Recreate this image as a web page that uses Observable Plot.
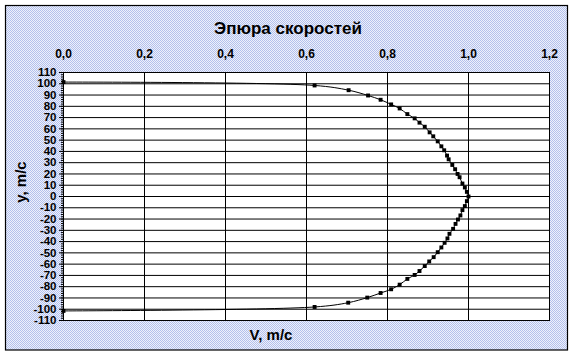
<!DOCTYPE html>
<html>
<head>
<meta charset="utf-8">
<script src="https://cdn.jsdelivr.net/npm/d3@7"></script>
<script src="https://cdn.jsdelivr.net/npm/@observablehq/plot@0.6"></script>
<style>
  html, body { margin: 0; padding: 0; background: #ffffff; }
  #chart { width: 576px; height: 356px; }
</style>
</head>
<body>
<div id="chart"></div>
<script>
// Velocity V (m/c) and position y (m/c) along the profile
const vel = [0, 0.620, 0.703, 0.750, 0.783, 0.809, 0.830, 0.849, 0.867, 0.879, 0.892, 0.903, 0.914, 0.924, 0.933, 0.941, 0.948, 0.953, 0.962, 0.968, 0.974, 0.980, 0.985, 0.991, 0.996,
  1.000,
  0.996, 0.991, 0.985, 0.978, 0.973, 0.967, 0.960, 0.951, 0.947, 0.940, 0.933, 0.924, 0.913, 0.904, 0.892, 0.879, 0.867, 0.849, 0.830, 0.809, 0.783, 0.752, 0.704, 0.620, 0];
const ypos = [-101.5, -98.0, -94.2, -89.7, -85.6, -82.3, -78.2, -73.1, -69.6, -66.1, -61.7, -57.6, -53.8, -49.4, -45.2, -41.1, -37.2, -33.1, -28.7, -24.3, -20.4, -16.8, -12.1, -8.5, -4.1,
  0,
  4.1, 8.0, 11.5, 17.1, 20.0, 24.2, 28.0, 33.0, 36.3, 41.0, 44.5, 48.9, 53.4, 56.9, 61.9, 65.5, 69.3, 73.1, 78.1, 81.7, 85.8, 89.6, 94.3, 98.5, 101.5];

const xTicks = [0, 0.2, 0.4, 0.6, 0.8, 1.0, 1.2];
const yTicks = [110, 100, 90, 80, 70, 60, 50, 40, 30, 20, 10, 0, -10, -20, -30, -40, -50, -60, -70, -80, -90, -100, -110];
const yMinor = d3.range(-110, 111, 2);

const title = "Эпюра скоростей";
const xTitle = "V, m/c";
const yTitle = "y, m/c";

const data = vel.map((v, i) => ({v, y: ypos[i]}));

const chart = Plot.plot({
  width: 576,
  height: 356,
  marginLeft: 63,
  marginRight: 27,
  marginTop: 72,
  marginBottom: 36,
  style: {background: "transparent", fontFamily: "'Liberation Sans', Arial, sans-serif", color: "black"},
  x: {domain: [0, 1.2]},
  y: {domain: [-110, 110]},
  marks: [
    Plot.frame({fill: "white", stroke: "none"}),
    Plot.gridY(yTicks.filter(d => Math.abs(d) < 110), {stroke: "black", strokeOpacity: 1, strokeWidth: 1}),
    Plot.gridX(xTicks.filter(d => d > 0 && d < 1.2), {stroke: "black", strokeOpacity: 1, strokeWidth: 1}),
    Plot.frame({stroke: "black", strokeWidth: 1}),
    Plot.axisX(xTicks, {anchor: "top", tickSize: 0, tickPadding: 15, label: null,
      tickFormat: d => d.toFixed(1).replace(".", ","), fontSize: 12, fontWeight: "bold"}),
    Plot.axisY(yMinor, {anchor: "left", tickSize: 2, tickFormat: () => "", label: null, stroke: "black"}),
    Plot.axisY(yTicks, {anchor: "left", tickSize: 4, tickPadding: 3, label: null,
      tickFormat: d => String(d), fontSize: 11.5, fontWeight: "bold", stroke: "black"}),
    Plot.line(data, {x: "v", y: "y", curve: "catmull-rom", stroke: "black", strokeWidth: 1}),
    Plot.dot(data, {x: "v", y: "y", symbol: "square", r: 2.2, fill: "black", stroke: "none"})
  ]
});

const svg = d3.select(chart);
// dithered light-blue background of the chart area
const defs = svg.insert("defs", ":first-child");
const pat = defs.append("pattern").attr("id", "dither").attr("width", 2).attr("height", 2)
  .attr("patternUnits", "userSpaceOnUse");
pat.append("rect").attr("width", 2).attr("height", 2).attr("fill", "#eef1fb");
pat.append("rect").attr("width", 1).attr("height", 1).attr("fill", "#b3c0ec");
pat.append("rect").attr("x", 1).attr("y", 1).attr("width", 1).attr("height", 1).attr("fill", "#b3c0ec");

svg.insert("rect", "defs + *")
  .attr("x", 5.5).attr("y", 5.5).attr("width", 562).attr("height", 344.5)
  .attr("fill", "url(#dither)").attr("stroke", "black").attr("stroke-width", 1.2);

const txt = (x, y, s, size, rot) => {
  const t = svg.append("text").attr("x", x).attr("y", y).attr("text-anchor", "middle")
    .attr("font-family", "'Liberation Sans', Arial, sans-serif").attr("font-weight", "bold")
    .attr("font-size", size).attr("fill", "black").text(s);
  if (rot) t.attr("transform", `rotate(-90 ${x} ${y})`);
};
txt(288, 34, title, 17);
txt(271, 340, xTitle, 15);
txt(26, 182, yTitle, 15, true);

document.getElementById("chart").appendChild(chart);
</script>
</body>
</html>
